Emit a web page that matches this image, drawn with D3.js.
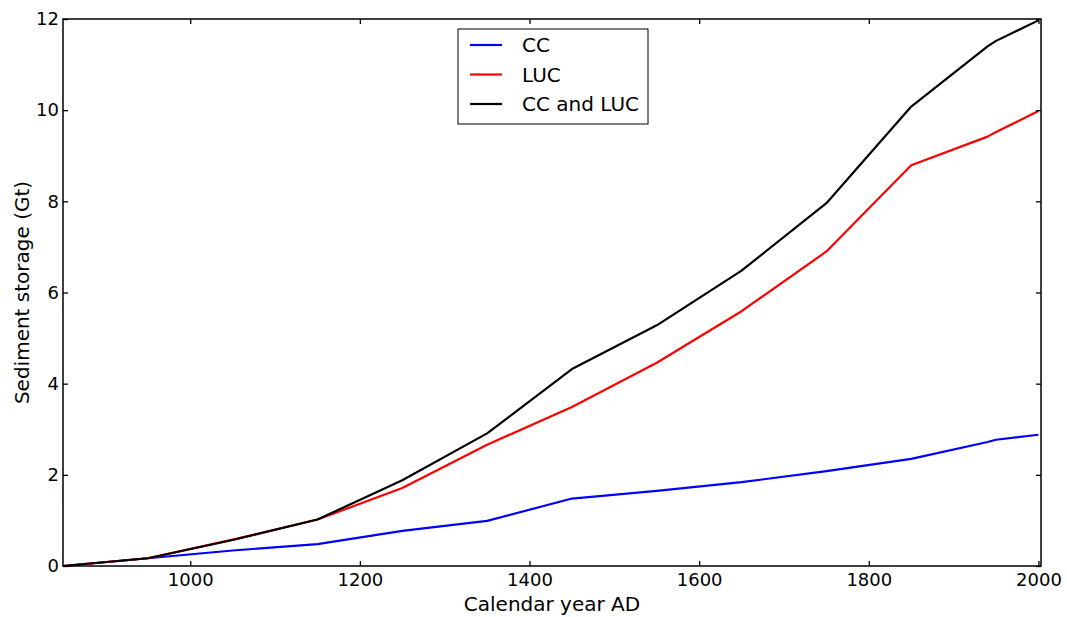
<!DOCTYPE html>
<html>
<head>
<meta charset="utf-8">
<script src="https://cdn.jsdelivr.net/npm/d3@7"></script>
<style>
body { margin: 0; background: #fff; }
svg text { font-family: "DejaVu Sans", sans-serif; }
</style>
</head>
<body>
<section id="grafico"></section>
<script>
// data
const years = [850, 950, 1050, 1150, 1250, 1350, 1450, 1550, 1650, 1750, 1850, 1940, 1950, 2000];
const cc     = [0, 0.17, 0.34, 0.48, 0.77, 0.99, 1.48, 1.65, 1.84, 2.08, 2.35, 2.72, 2.77, 2.88];
const luc    = [0, 0.17, 0.58, 1.02, 1.71, 2.66, 3.49, 4.46, 5.59, 6.9, 8.79, 9.42, 9.52, 9.98];
const ccLuc  = [0, 0.17, 0.57, 1.02, 1.88, 2.91, 4.32, 5.28, 6.48, 7.96, 10.08, 11.4, 11.52, 11.97];
const seriesNames = ["CC", "LUC", "CC and LUC"];
const seriesColors = ["#0000ff", "#ff0000", "#000000"];
const xTicks = [1000, 1200, 1400, 1600, 1800, 2000];
const yTicks = [0, 2, 4, 6, 8, 10, 12];

const width = 1067;
const height = 617;
const plotL = 63, plotR = 1041, plotT = 19, plotB = 566;

const svg = d3.select("section#grafico")
    .append("svg")
    .attr("width", width)
    .attr("height", height);

const xScale = d3.scaleLinear().domain([850, 2003]).range([plotL, plotR]);
const yScale = d3.scaleLinear().domain([0, 12]).range([plotB, plotT]);

const allSeries = [cc, luc, ccLuc];

// lines
const line = d3.line()
    .x((d, i) => xScale(years[i]))
    .y(d => yScale(d));

allSeries.forEach((s, k) => {
    svg.append("path")
        .datum(s)
        .attr("d", line)
        .attr("fill", "none")
        .attr("stroke", seriesColors[k])
        .attr("stroke-width", 2.2)
        .attr("stroke-linejoin", "round");
});

// axes, inward ticks on all sides like matplotlib
const tickFont = 18;
const labelFont = 20;
const xAxis = d3.axisBottom(xScale).tickValues(xTicks).tickSize(-5).tickPadding(7).tickFormat(d3.format("d"));
const yAxis = d3.axisLeft(yScale).tickValues(yTicks).tickSize(-5).tickPadding(4);

const gx = svg.append("g")
    .attr("transform", `translate(0,${plotB})`)
    .call(xAxis);
const gy = svg.append("g")
    .attr("transform", `translate(${plotL},0)`)
    .call(yAxis);
svg.append("g")
    .attr("transform", `translate(0,${plotT})`)
    .call(d3.axisTop(xScale).tickValues(xTicks).tickSize(-5).tickFormat(""));
svg.append("g")
    .attr("transform", `translate(${plotR},0)`)
    .call(d3.axisRight(yScale).tickValues(yTicks).tickSize(-5).tickFormat(""));

svg.selectAll(".domain").remove();
svg.selectAll(".tick line").attr("stroke", "#000").attr("stroke-width", 1.3);
[gx, gy].forEach(g => g.selectAll("text")
    .attr("font-size", tickFont)
    .attr("font-family", "DejaVu Sans, sans-serif")
    .attr("fill", "#000"));

svg.append("rect")
    .attr("x", plotL)
    .attr("y", plotT)
    .attr("width", plotR - plotL)
    .attr("height", plotB - plotT)
    .attr("fill", "none")
    .attr("stroke", "#000")
    .attr("stroke-width", 1.5);

// axis labels
svg.append("text")
    .attr("x", (plotL + plotR) / 2)
    .attr("y", 611)
    .attr("text-anchor", "middle")
    .attr("font-size", labelFont)
    .text("Calendar year AD");

svg.append("text")
    .attr("transform", `translate(29,${(plotT + plotB) / 2}) rotate(-90)`)
    .attr("text-anchor", "middle")
    .attr("font-size", labelFont)
    .text("Sediment storage (Gt)");

// legend
const legend = svg.append("g").attr("transform", "translate(458,29)");
legend.append("rect")
    .attr("width", 190)
    .attr("height", 95)
    .attr("fill", "#fff")
    .attr("stroke", "#000")
    .attr("stroke-width", 1);

seriesNames.forEach((name, i) => {
    const y = 16 + i * 29.5;
    legend.append("line")
        .attr("x1", 12).attr("x2", 44)
        .attr("y1", y).attr("y2", y)
        .attr("stroke", seriesColors[i])
        .attr("stroke-width", 2.2);
    legend.append("text")
        .attr("x", 64)
        .attr("y", y + 7)
        .attr("font-size", labelFont)
        .text(name);
});
</script>
</body>
</html>
